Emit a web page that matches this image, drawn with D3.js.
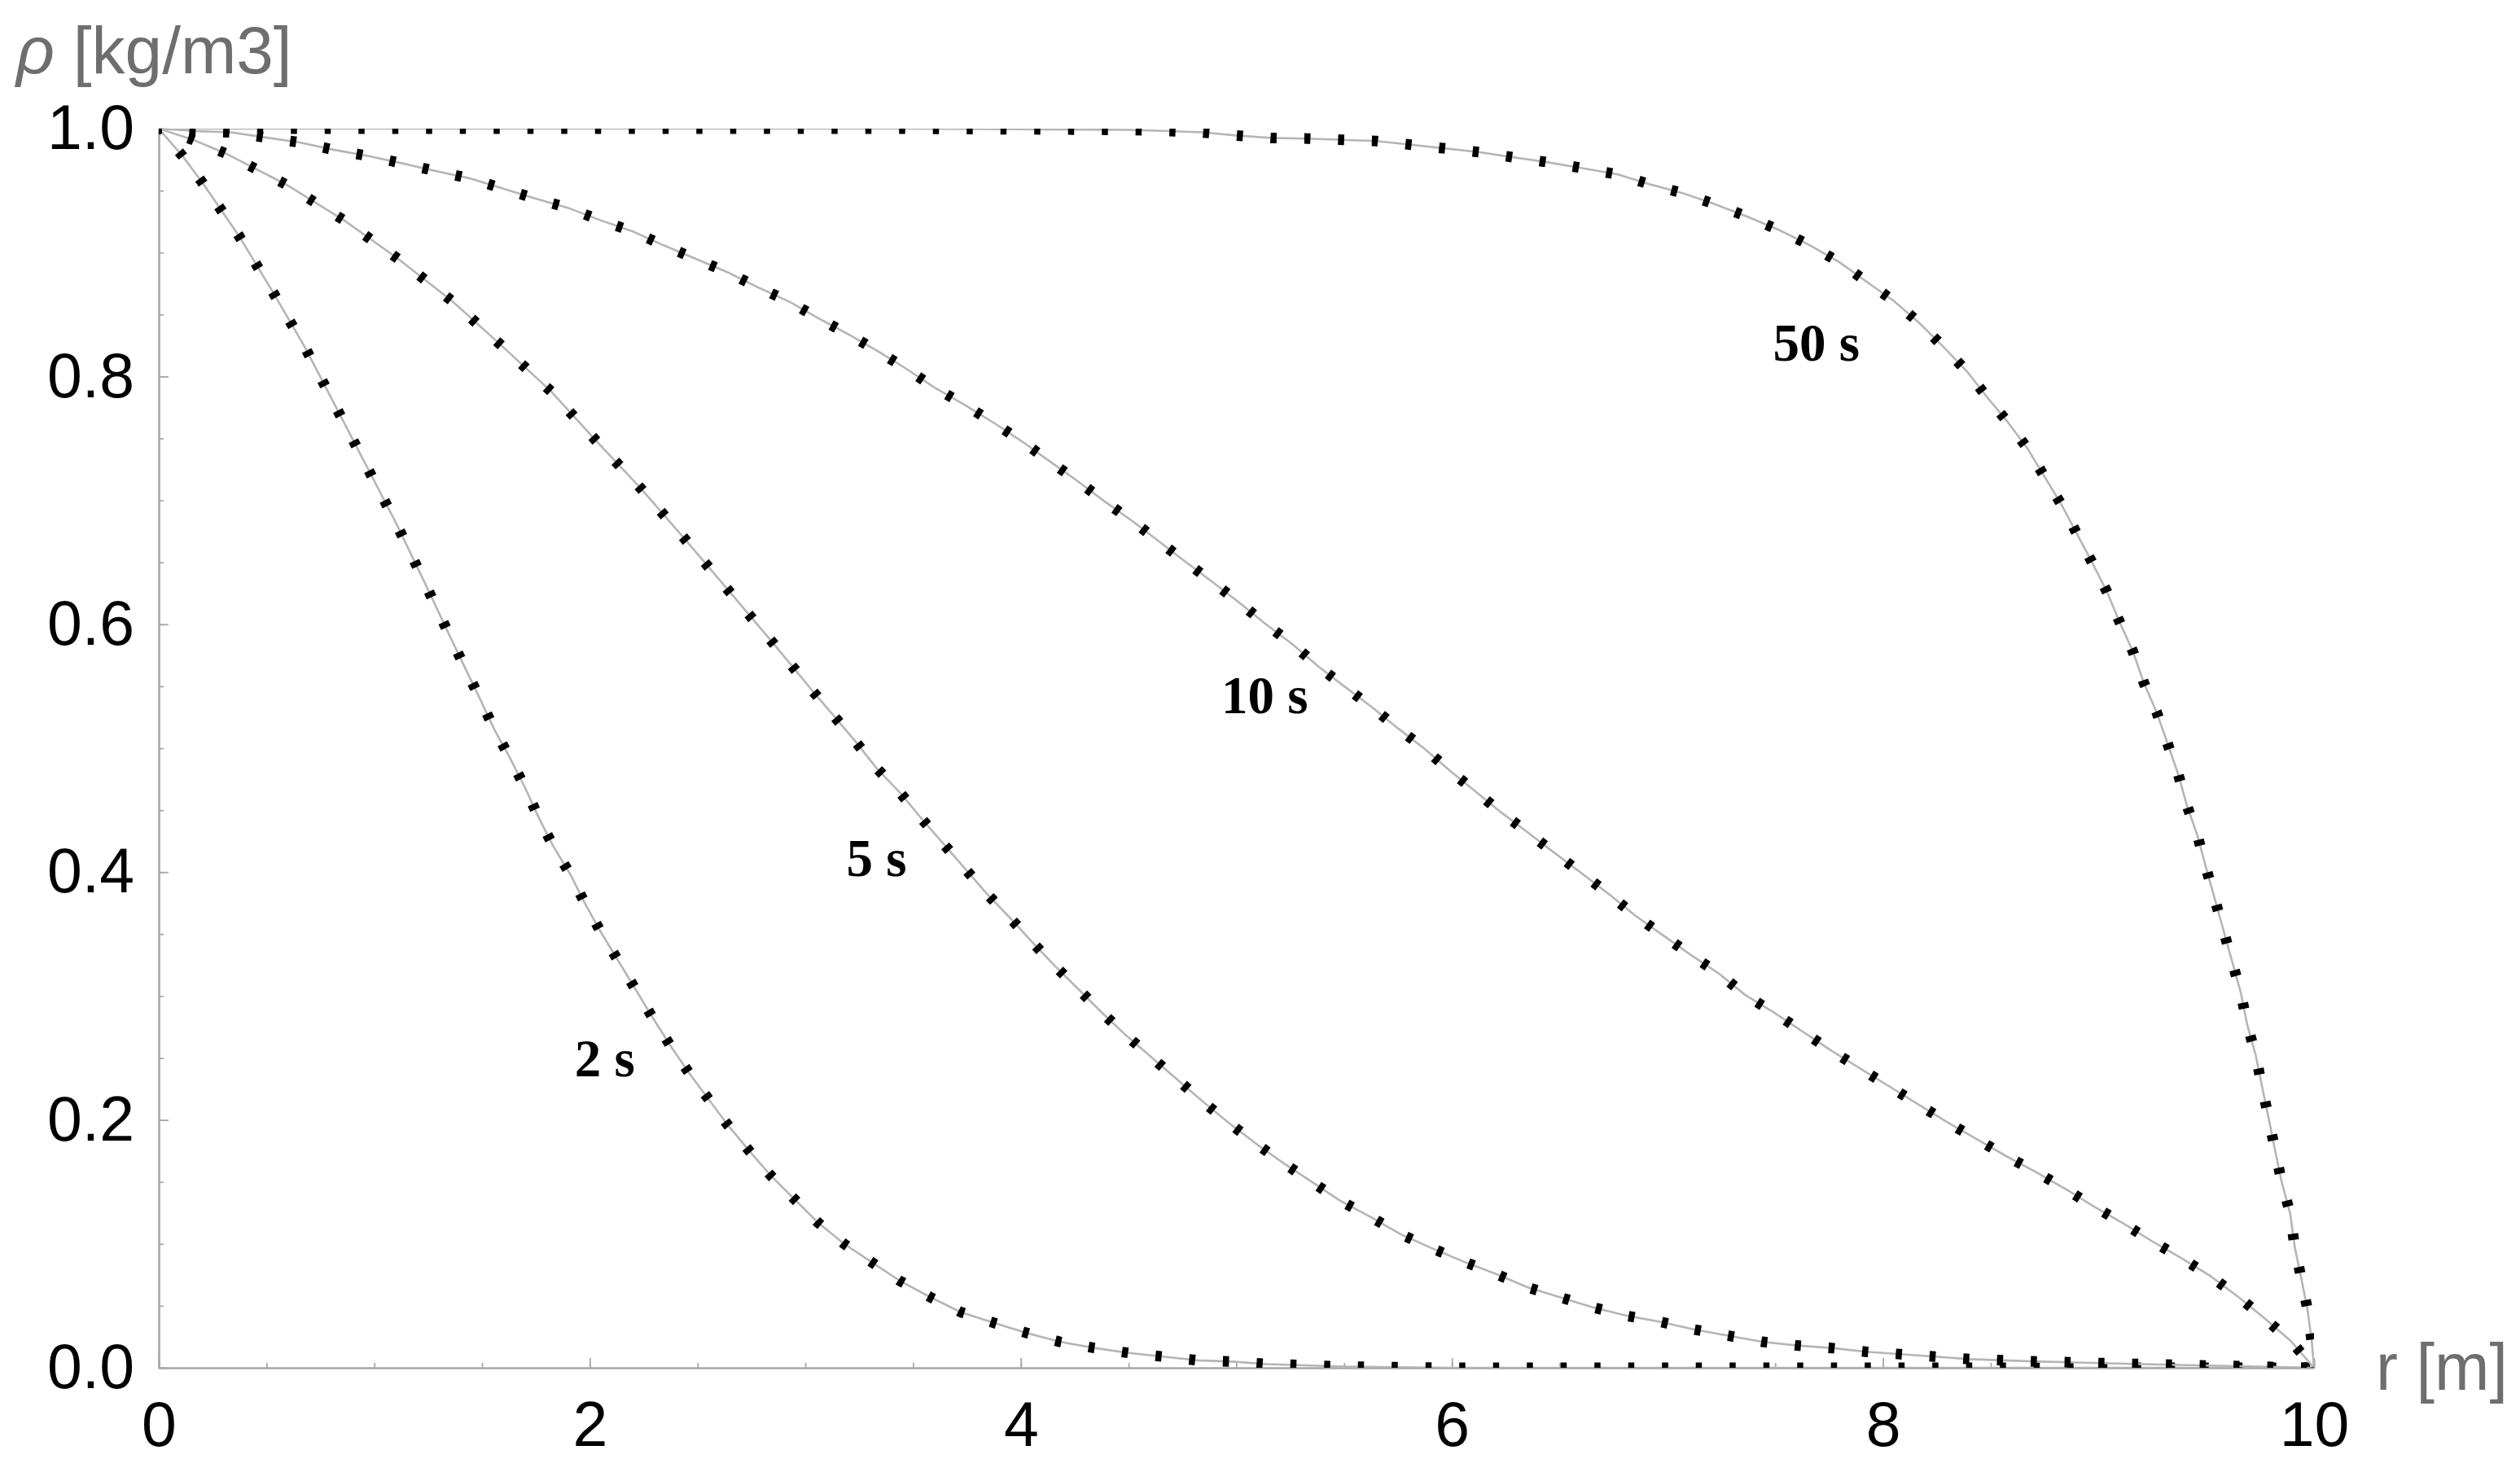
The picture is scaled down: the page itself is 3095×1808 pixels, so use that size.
<!DOCTYPE html>
<html>
<head>
<meta charset="utf-8">
<script src="https://cdnjs.cloudflare.com/ajax/libs/d3/7.8.5/d3.min.js"></script>
<style>
body { margin: 0; background: #fff; }
</style>
</head>
<body>
<script>
// density profiles: r [m] and rho [kg/m3] for each time
var r2   = [0, 0.11, 0.2, 0.37, 0.53, 0.68, 0.82, 0.96, 1.10, 1.23, 1.36, 1.49, 1.56, 1.63, 1.70, 1.76, 1.83, 1.91, 1.98, 2.05, 2.13, 2.21, 2.29, 2.37, 2.46, 2.55, 2.64, 2.74, 2.84, 2.95, 3.06, 3.18, 3.31, 3.44, 3.58, 3.72, 3.88, 4.03, 4.18, 4.34, 4.50, 4.66, 4.82, 4.98, 5.14, 5.5, 6, 10];
var rho2 = [1, 0.978, 0.957, 0.914, 0.868, 0.823, 0.776, 0.729, 0.682, 0.635, 0.587, 0.540, 0.514, 0.492, 0.468, 0.445, 0.421, 0.398, 0.374, 0.352, 0.329, 0.306, 0.283, 0.261, 0.238, 0.217, 0.196, 0.175, 0.155, 0.136, 0.117, 0.100, 0.085, 0.070, 0.057, 0.045, 0.036, 0.028, 0.021, 0.016, 0.012, 0.009, 0.006, 0.005, 0.003, 0.001, 0, 0];

var r5   = [0, 0.16, 0.31, 0.59, 0.86, 1.11, 1.36, 1.59, 1.82, 2.03, 2.24, 2.44, 2.64, 2.84, 3.03, 3.23, 3.33, 3.44, 3.54, 3.64, 3.74, 3.84, 3.95, 4.05, 4.16, 4.27, 4.38, 4.49, 4.61, 4.73, 4.85, 4.97, 5.09, 5.22, 5.35, 5.48, 5.62, 5.76, 5.90, 6.05, 6.20, 6.35, 6.50, 6.65, 6.81, 6.97, 7.12, 7.28, 7.44, 7.60, 7.76, 7.92, 8.08, 8.24, 8.40, 8.56, 8.73, 9.2, 10];
var rho5 = [1, 0.991, 0.980, 0.955, 0.926, 0.895, 0.861, 0.825, 0.788, 0.748, 0.709, 0.669, 0.628, 0.587, 0.547, 0.506, 0.484, 0.464, 0.443, 0.423, 0.403, 0.383, 0.363, 0.344, 0.324, 0.305, 0.286, 0.268, 0.250, 0.232, 0.214, 0.197, 0.181, 0.165, 0.150, 0.135, 0.122, 0.108, 0.097, 0.086, 0.076, 0.065, 0.057, 0.049, 0.042, 0.037, 0.031, 0.026, 0.021, 0.018, 0.016, 0.013, 0.011, 0.009, 0.007, 0.006, 0.005, 0.003, 0];

var r10   = [0, 0.175, 0.334, 0.49, 0.65, 0.81, 0.97, 1.13, 1.28, 1.44, 1.59, 1.74, 1.90, 2.05, 2.20, 2.34, 2.49, 2.64, 2.78, 2.93, 3.06, 3.20, 3.34, 3.47, 3.60, 3.74, 3.88, 4.01, 4.13, 4.26, 4.39, 4.52, 4.64, 4.76, 4.89, 5.01, 5.13, 5.26, 5.38, 5.50, 5.63, 5.75, 5.87, 5.99, 6.11, 6.23, 6.36, 6.48, 6.61, 6.73, 6.85, 6.98, 7.11, 7.24, 7.36, 7.50, 7.63, 7.76, 7.89, 8.03, 8.16, 8.30, 8.43, 8.57, 8.71, 8.85, 8.98, 9.12, 9.25, 9.39, 9.52, 9.65, 9.77, 9.89, 10];
var rho10 = [1, 0.998, 0.997, 0.993, 0.989, 0.983, 0.978, 0.972, 0.966, 0.960, 0.952, 0.944, 0.936, 0.926, 0.917, 0.906, 0.895, 0.884, 0.872, 0.860, 0.847, 0.834, 0.820, 0.806, 0.791, 0.777, 0.762, 0.747, 0.732, 0.716, 0.699, 0.683, 0.667, 0.651, 0.634, 0.618, 0.601, 0.584, 0.566, 0.550, 0.533, 0.516, 0.500, 0.482, 0.465, 0.448, 0.431, 0.415, 0.398, 0.382, 0.365, 0.349, 0.333, 0.318, 0.301, 0.286, 0.271, 0.256, 0.242, 0.227, 0.213, 0.198, 0.185, 0.171, 0.158, 0.144, 0.130, 0.116, 0.102, 0.088, 0.074, 0.057, 0.040, 0.022, 0];

var r50   = [0, 1.0, 2.0, 3.0, 3.4, 4.0, 4.5, 4.69, 4.84, 5.00, 5.16, 5.33, 5.49, 5.65, 5.81, 5.97, 6.13, 6.28, 6.44, 6.61, 6.77, 6.92, 7.07, 7.22, 7.37, 7.52, 7.66, 7.80, 7.92, 8.05, 8.17, 8.28, 8.39, 8.48, 8.58, 8.67, 8.75, 8.83, 8.90, 8.97, 9.04, 9.10, 9.16, 9.21, 9.27, 9.32, 9.37, 9.41, 9.46, 9.50, 9.54, 9.58, 9.62, 9.66, 9.69, 9.73, 9.76, 9.79, 9.82, 9.85, 9.89, 9.91, 9.94, 9.97, 9.99, 10];
var rho50 = [1, 1, 1, 1, 1, 0.9995, 0.999, 0.998, 0.997, 0.9945, 0.9925, 0.992, 0.991, 0.990, 0.987, 0.984, 0.981, 0.977, 0.973, 0.968, 0.963, 0.955, 0.948, 0.939, 0.929, 0.918, 0.906, 0.892, 0.877, 0.861, 0.843, 0.824, 0.804, 0.784, 0.763, 0.742, 0.719, 0.696, 0.673, 0.650, 0.626, 0.601, 0.578, 0.553, 0.529, 0.504, 0.479, 0.454, 0.429, 0.403, 0.378, 0.353, 0.328, 0.303, 0.277, 0.252, 0.226, 0.201, 0.175, 0.150, 0.124, 0.098, 0.073, 0.047, 0.021, 0];

// curve labels and where they sit (data coordinates of the text start / baseline)
var labelText = ["2 s", "5 s", "10 s", "50 s"];
var labelR    = [1.93, 3.19, 4.93, 7.49];
var labelRho  = [0.235, 0.397, 0.528, 0.813];

// axis ticks
var xTicks = [0, 2, 4, 6, 8, 10];
var yTicks = [0, 0.2, 0.4, 0.6, 0.8, 1.0];
var xMinorTicks = d3.range(0, 21).map(function(i) { return i * 0.5; });
var yMinorTicks = d3.range(0, 21).map(function(i) { return i * 0.05; });

var margin = {top: 158, right: 253, bottom: 128, left: 195},
    width = 3095 - margin.left - margin.right,
    height = 1808 - margin.top - margin.bottom;

var svg = d3.select("body").append("svg")
    .attr("width", 3095)
    .attr("height", 1808)
    .style("display", "block")
    .style("background", "#fff");

var g = svg.append("g")
    .attr("transform", "translate(" + margin.left + "," + margin.top + ")");

var x = d3.scaleLinear().domain([0, 10]).range([0, width]);
var y = d3.scaleLinear().domain([0, 1]).range([height, 0]);

g.append("clipPath")
    .attr("id", "plot-clip")
    .append("rect")
    .attr("x", 0)
    .attr("y", 0)
    .attr("width", width)
    .attr("height", height);

var axisColor = "#a8a8a8";
var tickFont = "'Liberation Sans', Arial, sans-serif";

// minor ticks first, then the labelled major ticks
var xMinor = g.append("g")
    .attr("transform", "translate(0," + height + ")")
    .call(d3.axisBottom(x).tickValues(xMinorTicks).tickSizeInner(-6).tickSizeOuter(0).tickFormat(""));
var xMajor = g.append("g")
    .attr("transform", "translate(0," + height + ")")
    .call(d3.axisBottom(x).tickValues(xTicks).tickSizeInner(-12).tickSizeOuter(0)
        .tickPadding(41).tickFormat(d3.format("d")));

var yMinor = g.append("g")
    .call(d3.axisLeft(y).tickValues(yMinorTicks).tickSizeInner(-6).tickSizeOuter(0).tickFormat(""));
var yMajor = g.append("g")
    .call(d3.axisLeft(y).tickValues(yTicks).tickSizeInner(-12).tickSizeOuter(0)
        .tickPadding(30).tickFormat(d3.format(".1f")));

[xMinor, xMajor, yMinor, yMajor].forEach(function(a) {
    a.select(".domain").attr("stroke", axisColor).attr("stroke-width", 2.2);
    a.selectAll(".tick line").attr("stroke", axisColor).attr("stroke-width", 1.8);
    a.selectAll(".tick text")
        .attr("fill", "#000")
        .style("font-family", tickFont)
        .style("font-size", "77px");
});

// axis titles
var yTitle = svg.append("text")
    .attr("x", 20)
    .attr("y", 90)
    .attr("fill", "#6e6e6e")
    .style("font-family", tickFont)
    .style("font-size", "82px");
yTitle.append("tspan").style("font-style", "italic").text("\u03c1");
yTitle.append("tspan").text(" [kg/m3]");

svg.append("text")
    .attr("x", 2918)
    .attr("y", 1707)
    .attr("fill", "#6e6e6e")
    .style("font-family", tickFont)
    .style("font-size", "81px")
    .text("r [m]");

// curves: thin grey line under a heavy dotted line
var series = [
    {r: r2, rho: rho2},
    {r: r5, rho: rho5},
    {r: r10, rho: rho10},
    {r: r50, rho: rho50}
];

var line = d3.line()
    .x(function(d) { return x(d[0]); })
    .y(function(d) { return y(d[1]); });

var curves = g.append("g").attr("clip-path", "url(#plot-clip)");

series.forEach(function(s) {
    var pts = s.r.map(function(v, i) { return [v, s.rho[i]]; });
    curves.append("path")
        .attr("d", line(pts))
        .attr("fill", "none")
        .attr("stroke", "#b5b5b5")
        .attr("stroke-width", 2.6);
    curves.append("path")
        .attr("d", line(pts))
        .attr("fill", "none")
        .attr("stroke", "#000")
        .attr("stroke-width", 13)
        .attr("stroke-dasharray", "7.5 34")
        .attr("stroke-dashoffset", 3.75);
});

g.selectAll(".curve-label")
    .data(labelText)
    .enter().append("text")
    .attr("class", "curve-label")
    .attr("x", function(d, i) { return x(labelR[i]); })
    .attr("y", function(d, i) { return y(labelRho[i]); })
    .style("font-family", "'Liberation Serif', 'Times New Roman', serif")
    .style("font-weight", "bold")
    .style("font-size", "65px")
    .attr("fill", "#000")
    .text(function(d) { return d; });
</script>
</body>
</html>
